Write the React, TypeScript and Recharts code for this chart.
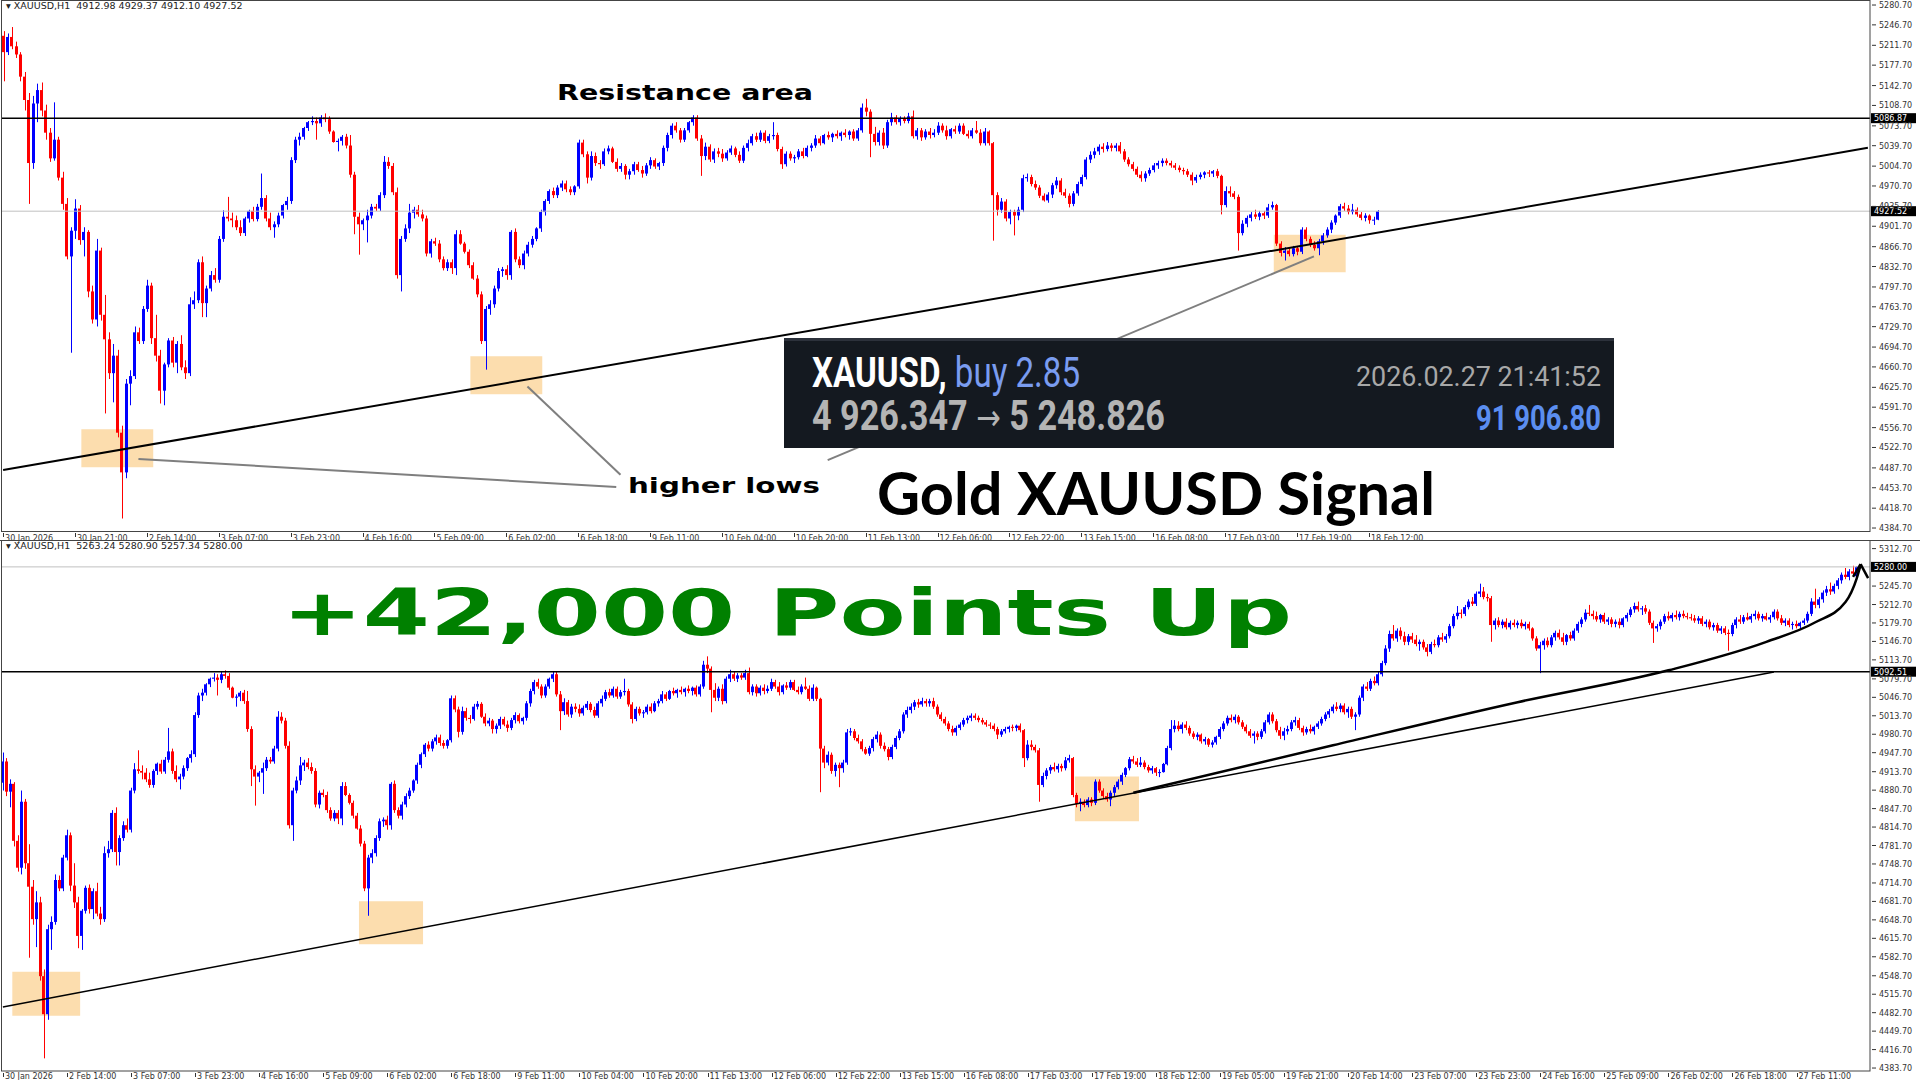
import React from 'react';
import { ComposedChart, Bar, Line, XAxis, YAxis, ReferenceLine, ReferenceArea } from 'recharts';

type Ohlc = [number, number, number, number];

// XAUUSD H1 candles [open, high, low, close]
const bars30Jan: Ohlc[] = [
  [5228,5236,5150,5200],[5200,5232,5195,5226],[5226,5243,5205,5210],[5210,5218,5190,5196],[5196,5200,5150,5158],
  [5158,5166,5100,5118],[5118,5130,4940,5010],[5010,5125,5000,5112],[5112,5146,5080,5135],[5135,5148,5090,5100],
  [5100,5110,5050,5062],[5062,5070,5012,5018],[5018,5114,5014,5050],[5050,5055,4980,4985],[4985,4995,4930,4940],
  [4940,4950,4845,4850],[4850,4900,4685,4894],[4894,4948,4880,4932],[4932,4938,4870,4878],[4878,4900,4850,4892],
  [4892,4895,4780,4790],[4790,4800,4735,4742],[4742,4880,4730,4860],[4860,4865,4740,4750],[4750,4784,4581,4708],
  [4708,4720,4640,4650],[4650,4700,4600,4680],[4680,4690,4540,4548],[4548,4560,4401,4480],[4480,4640,4470,4632],
  [4632,4655,4595,4645],[4645,4730,4640,4720],[4720,4728,4700,4705],[4705,4765,4700,4760],[4760,4810,4755,4800],
  [4800,4805,4700,4710],[4710,4750,4670,4680],[4680,4690,4598,4620],[4620,4668,4595,4665],[4665,4710,4660,4706],
  [4706,4712,4660,4668],[4668,4705,4650,4700],[4700,4715,4655,4660],[4660,4672,4640,4650],[4650,4780,4645,4768],
  [4768,4790,4760,4775],[4775,4845,4770,4840],[4840,4850,4746,4770],[4770,4800,4746,4795],[4795,4825,4790,4818],
  [4818,4830,4805,4810],[4810,4885,4805,4880],[4880,4929,4875,4918],[4918,4952,4910,4915],[4915,4925,4900,4912],
  [4912,4920,4895,4900],[4900,4912,4885,4890],[4890,4918,4885,4915],[4915,4930,4908,4928],[4928,4935,4910,4914],
  [4914,4940,4910,4935],[4935,4992,4930,4950],[4950,4955,4910,4915],[4915,4925,4895,4900],[4900,4910,4882,4905],
  [4905,4925,4900,4920],[4920,4940,4915,4938],[4938,4952,4930,4945],[4945,5020,4940,5015],[5015,5055,5010,5050],
  [5050,5062,5040,5055],[5055,5072,5050,5070],[5070,5082,5065,5080],[5080,5090,5075,5082],[5082,5088,5050,5078],
  [5078,5092,5072,5088],[5088,5095,5080,5085],[5085,5090,5060,5064],[5064,5066,5045,5046],[5046,5052,5030,5048],
  [5048,5058,5040,5055],[5055,5060,5035,5040],[5040,5058,4985,4990],[4990,4995,4888,4918],[4918,4925,4853,4905],
  [4905,4915,4895,4912],[4912,4930,4874,4920],[4920,4940,4915,4935],[4935,4940,4928,4932],[4932,4960,4928,4955],
  [4955,5022,4950,5012],[5012,5020,5000,5005],[5005,5010,4955,4960],[4960,4968,4812,4818],[4818,4885,4790,4880],
  [4880,4905,4875,4898],[4898,4940,4890,4925],[4925,4935,4915,4930],[4930,4938,4918,4922],[4922,4930,4910,4915],
];

const bars6Feb: Ohlc[] = [
  [4915,4920,4850,4855],[4855,4880,4848,4876],[4876,4882,4868,4872],[4872,4878,4840,4845],[4845,4850,4826,4830],
  [4830,4845,4825,4840],[4840,4845,4820,4830],[4830,4895,4818,4888],[4888,4895,4870,4872],[4872,4875,4855,4858],
  [4858,4862,4830,4835],[4835,4840,4810,4812],[4812,4818,4780,4785],[4785,4790,4700,4705],[4705,4765,4656,4760],
  [4760,4775,4750,4768],[4768,4800,4762,4795],[4795,4830,4790,4825],[4825,4832,4815,4828],[4828,4835,4810,4818],
  [4818,4895,4810,4892],[4892,4898,4840,4845],[4845,4850,4830,4835],[4835,4860,4828,4855],[4855,4875,4850,4870],
  [4870,4885,4865,4880],[4880,4900,4876,4898],[4898,4930,4892,4926],[4926,4948,4920,4945],[4945,4965,4940,4962],
  [4962,4968,4950,4955],[4955,4972,4950,4968],[4968,4980,4962,4975],[4975,4980,4960,4965],[4965,4970,4955,4960],
  [4960,4972,4955,4970],[4970,5050,4966,5045],[5045,5050,5020,5025],[5025,5030,4975,4985],[4985,5030,4980,5022],
  [5022,5028,5005,5010],[5010,5015,5000,5008],[5008,5035,5005,5030],[5030,5040,5025,5035],[5035,5038,5010,5012],
  [5012,5018,4995,5000],[5000,5010,4995,5005],[5005,5008,4982,4990],[4990,5000,4982,4996],[4996,5012,4990,5008],
  [5008,5012,4995,4998],[4998,5005,4985,4992],[4992,5010,4988,5006],[5006,5020,5000,5015],[5015,5018,5000,5004],
  [5004,5012,4998,5010],[5010,5040,5005,5036],[5036,5062,5030,5058],[5058,5078,5052,5074],[5074,5080,5062,5066],
  [5066,5070,5045,5050],[5050,5070,5046,5066],[5066,5082,5062,5080],[5080,5092,5074,5088],[5088,5092,5048,5052],
  [5052,5058,4988,5022],[5022,5045,5015,5038],[5038,5042,5012,5016],[5016,5035,5010,5030],[5030,5036,5020,5026],
  [5026,5034,5012,5018],[5018,5032,5014,5028],[5028,5040,5024,5035],[5035,5038,5020,5024],[5024,5030,5010,5014],
  [5014,5040,5010,5036],[5036,5050,5030,5044],[5044,5060,5040,5056],[5056,5062,5046,5050],[5050,5066,5046,5062],
  [5062,5066,5044,5048],[5048,5060,5044,5056],[5056,5080,5050,5058],[5058,5062,5030,5034],[5034,5038,5000,5008],
  [5008,5030,5004,5026],[5026,5030,5014,5018],[5018,5024,5010,5020],[5020,5034,5016,5030],[5030,5036,5018,5022],
  [5022,5040,5020,5036],[5036,5044,5030,5040],[5040,5058,5036,5052],[5052,5056,5040,5044],[5044,5060,5042,5058],
  [5058,5064,5050,5054],[5054,5062,5046,5060],[5060,5066,5052,5056],[5056,5064,5048,5062],[5062,5068,5054,5058],
];

const bars11Feb: Ohlc[] = [
  [5058,5066,5050,5064],[5064,5068,5048,5052],[5052,5070,5048,5066],[5066,5112,5062,5105],[5105,5120,5090,5098],
  [5098,5102,5020,5060],[5060,5072,5040,5046],[5046,5066,5040,5062],[5062,5070,5034,5040],[5040,5084,5036,5080],
  [5080,5096,5074,5088],[5088,5092,5076,5080],[5080,5090,5074,5086],[5086,5090,5078,5082],[5082,5096,5078,5090],
  [5090,5100,5052,5056],[5056,5070,5050,5066],[5066,5070,5048,5054],[5054,5068,5050,5064],[5064,5070,5052,5058],
  [5058,5068,5054,5062],[5062,5080,5058,5074],[5074,5078,5062,5066],[5066,5074,5050,5056],[5056,5070,5052,5068],
  [5068,5074,5060,5064],[5064,5078,5060,5074],[5074,5078,5058,5060],[5060,5066,5052,5056],[5056,5070,5052,5066],
  [5066,5082,5060,5062],[5062,5068,5040,5044],[5044,5070,5040,5064],[5064,5066,5040,5044],[5044,5046,4877,4955],
  [4955,4960,4920,4930],[4930,4950,4925,4944],[4944,4948,4910,4915],[4915,4930,4905,4926],[4926,4930,4886,4920],
  [4920,4935,4912,4930],[4930,4990,4926,4984],[4984,4992,4978,4986],[4986,4990,4970,4974],[4974,4980,4964,4968],
  [4968,4972,4950,4954],[4954,4958,4944,4946],[4946,4960,4942,4956],[4956,4976,4950,4972],[4972,4986,4966,4980],
  [4980,4984,4955,4960],[4960,4966,4950,4954],[4954,4958,4934,4940],[4940,4962,4936,4958],[4958,4978,4954,4974],
  [4974,4990,4970,4986],[4986,5020,4982,5016],[5016,5030,5010,5024],[5024,5036,5018,5030],[5030,5042,5024,5038],
  [5038,5044,5028,5034],[5034,5046,5030,5040],[5040,5044,5030,5036],[5036,5044,5030,5040],[5040,5046,5026,5030],
  [5030,5034,5012,5016],[5016,5020,5004,5008],[5008,5012,4996,5000],[5000,5004,4986,4990],[4990,4996,4978,4984],
  [4984,4996,4978,4992],[4992,5002,4988,4998],[4998,5010,4994,5006],[5006,5014,5000,5010],[5010,5018,5004,5014],
  [5014,5018,5006,5010],[5010,5014,5002,5006],[5006,5010,4998,5002],[5002,5006,4994,4998],[4998,5002,4990,4996],
  [4996,5000,4986,4990],[4990,4994,4972,4980],[4980,4990,4976,4986],[4986,4994,4982,4990],[4990,4996,4984,4994],
  [4994,4998,4986,4992],[4992,4998,4986,4996],[4996,5000,4984,4988],[4988,4990,4922,4938],[4938,4970,4934,4962],
  [4962,4970,4952,4958],[4958,4962,4948,4952],[4952,4956,4860,4890],[4890,4912,4886,4906],[4906,4920,4900,4916],
  [4916,4926,4910,4922],[4922,4930,4914,4918],[4918,4928,4912,4924],[4924,4928,4914,4920],[4920,4940,4916,4934],
];

const bars17Feb: Ohlc[] = [
  [4934,4944,4930,4938],[4938,4940,4868,4872],[4872,4876,4850,4856],[4856,4866,4843,4860],[4860,4864,4850,4854],
  [4854,4868,4850,4864],[4864,4868,4852,4858],[4858,4900,4854,4896],[4896,4900,4876,4880],[4880,4884,4866,4870],
  [4870,4876,4860,4864],[4864,4880,4852,4876],[4876,4890,4870,4886],[4886,4900,4882,4896],[4896,4912,4890,4908],
  [4908,4922,4904,4920],[4920,4940,4916,4936],[4936,4942,4928,4932],[4932,4938,4922,4926],[4926,4940,4922,4930],
  [4930,4934,4918,4922],[4922,4926,4912,4916],[4916,4924,4910,4920],[4920,4922,4906,4912],[4912,4918,4904,4913],
  [4912.98,4929.37,4912.1,4927.52],[4927,4960,4925,4956],[4956,5006,4952,4990],[4990,5006,4984,4996],[4996,5004,4986,4990],
  [4990,5002,4982,4998],[4998,5004,4988,4992],[4992,4996,4978,4982],[4982,4986,4972,4976],[4976,4984,4970,4980],
  [4980,4982,4964,4968],[4968,4976,4962,4972],[4972,4974,4958,4962],[4962,4970,4957,4966],[4966,4978,4962,4976],
  [4976,4994,4972,4990],[4990,5004,4986,5000],[5000,5014,4996,5010],[5010,5016,5002,5006],[5006,5016,5000,5012],
  [5012,5015,4998,5002],[5002,5006,4990,4994],[4994,4998,4982,4986],[4986,4990,4974,4978],[4978,4986,4964,4982],
  [4982,4986,4970,4976],[4976,4990,4972,4986],[4986,5006,4982,5002],[5002,5020,4998,5016],[5016,5020,5000,5004],
  [5004,5008,4984,4988],[4988,4994,4972,4978],[4978,4992,4970,4986],[4986,4996,4980,4990],[4990,5006,4986,5002],
  [5002,5012,4996,5006],[5006,5010,4988,4992],[4992,4996,4978,4984],[4984,4994,4980,4990],[4990,4998,4982,4986],
  [4986,4996,4980,4994],[4994,5004,4990,5000],[5000,5012,4996,5008],[5008,5020,5004,5016],[5016,5026,5010,5022],
  [5022,5034,5018,5030],[5030,5038,5022,5026],[5026,5036,5020,5032],[5032,5036,5016,5020],[5020,5030,5010,5026],
  [5026,5030,5008,5012],[5012,5020,4988,5016],[5016,5050,5012,5046],[5046,5070,5040,5066],[5066,5074,5058,5062],
  [5062,5080,5058,5076],[5076,5084,5068,5072],[5072,5092,5068,5088],[5088,5112,5084,5108],[5108,5140,5104,5134],
  [5134,5166,5128,5160],[5160,5176,5148,5152],[5152,5170,5146,5166],[5166,5172,5150,5156],[5156,5164,5140,5146],
  [5146,5160,5140,5156],[5156,5162,5144,5150],[5150,5158,5138,5142],[5142,5150,5130,5146],[5146,5150,5132,5136],
  [5136,5142,5120,5128],[5128,5146,5124,5142],[5142,5150,5136,5140],[5140,5158,5136,5154],[5154,5162,5146,5150],
];

const bars23Feb: Ohlc[] = [
  [5150,5160,5144,5156],[5156,5178,5152,5174],[5174,5196,5170,5192],[5192,5210,5186,5198],[5198,5204,5188,5196],
  [5196,5212,5192,5208],[5208,5222,5204,5218],[5218,5226,5210,5214],[5214,5236,5210,5232],[5232,5250,5226,5236],
  [5236,5244,5222,5226],[5226,5232,5218,5224],[5224,5228,5146,5176],[5176,5188,5168,5184],[5184,5190,5172,5176],
  [5176,5186,5170,5182],[5182,5188,5168,5172],[5172,5184,5168,5180],[5180,5186,5172,5176],[5176,5184,5170,5180],
  [5180,5186,5170,5174],[5174,5182,5168,5178],[5178,5182,5166,5170],[5170,5172,5148,5152],[5152,5156,5130,5134],
  [5134,5146,5090,5140],[5140,5152,5132,5148],[5148,5154,5136,5140],[5140,5158,5136,5154],[5154,5166,5148,5162],
  [5162,5168,5150,5154],[5154,5162,5140,5146],[5146,5160,5140,5158],[5158,5164,5148,5152],[5152,5170,5148,5166],
  [5166,5182,5162,5178],[5178,5190,5172,5186],[5186,5204,5182,5198],[5198,5212,5192,5196],[5196,5202,5186,5192],
  [5192,5200,5182,5186],[5186,5196,5180,5194],[5194,5198,5178,5182],[5182,5190,5176,5186],[5186,5190,5172,5178],
  [5178,5186,5172,5182],[5182,5188,5170,5176],[5176,5190,5172,5188],[5188,5198,5182,5194],[5194,5208,5190,5204],
  [5204,5216,5198,5210],[5210,5218,5200,5204],[5204,5210,5194,5206],[5206,5212,5196,5200],[5200,5204,5176,5180],
  [5180,5184,5144,5170],[5170,5178,5164,5174],[5174,5186,5168,5182],[5182,5196,5178,5192],[5192,5200,5184,5188],
  [5188,5198,5182,5194],[5194,5202,5186,5190],[5190,5200,5184,5196],[5196,5202,5188,5192],[5192,5198,5186,5190],
  [5190,5196,5184,5188],[5188,5194,5180,5184],[5184,5192,5178,5188],[5188,5192,5174,5178],[5178,5186,5172,5182],
  [5182,5186,5168,5172],[5172,5180,5166,5176],[5176,5180,5162,5166],[5166,5174,5160,5170],[5170,5174,5158,5162],
  [5162,5168,5130,5160],[5160,5180,5156,5176],[5176,5190,5170,5186],[5186,5194,5178,5182],[5182,5194,5178,5190],
  [5190,5198,5184,5186],[5186,5196,5180,5192],[5192,5202,5186,5196],[5196,5200,5184,5188],[5188,5196,5182,5192],
  [5192,5198,5184,5186],[5186,5194,5180,5190],[5190,5204,5186,5200],[5200,5204,5184,5188],[5188,5194,5176,5180],
  [5180,5188,5174,5184],[5184,5188,5172,5176],[5176,5182,5168,5178],[5178,5184,5170,5174],[5174,5182,5168,5180],
  [5180,5188,5176,5184],[5184,5200,5180,5196],[5196,5224,5192,5218],[5218,5241,5206,5212],[5212,5226,5206,5222],
  [5222,5238,5216,5234],[5234,5246,5228,5240],[5240,5252,5230,5236],[5236,5250,5232,5246],[5246,5260,5240,5256],
  [5256,5270,5250,5266],[5266,5278,5258,5262],[5262,5276,5256,5272],[5272,5282,5264,5268],[5263.24,5280.9,5257.34,5280],
];

const allBars: Ohlc[] = [...bars30Jan, ...bars6Feb, ...bars11Feb, ...bars17Feb, ...bars23Feb];

const topTimeLabels = [
  '30 Jan 2026', '30 Jan 21:00', '2 Feb 14:00', '3 Feb 07:00', '3 Feb 23:00', '4 Feb 16:00', '5 Feb 09:00',
  '6 Feb 02:00', '6 Feb 18:00', '9 Feb 11:00', '10 Feb 04:00', '10 Feb 20:00', '11 Feb 13:00', '12 Feb 06:00',
  '12 Feb 22:00', '13 Feb 15:00', '16 Feb 08:00', '17 Feb 03:00', '17 Feb 19:00', '18 Feb 12:00',
];
const bottomTimeLabels = [
  '30 Jan 2026', '2 Feb 14:00', '3 Feb 07:00', '3 Feb 23:00', '4 Feb 16:00', '5 Feb 09:00', '6 Feb 02:00',
  '6 Feb 18:00', '9 Feb 11:00', '10 Feb 04:00', '10 Feb 20:00', '11 Feb 13:00', '12 Feb 06:00', '12 Feb 22:00',
  '13 Feb 15:00', '16 Feb 08:00', '17 Feb 03:00', '17 Feb 19:00', '18 Feb 12:00', '19 Feb 05:00', '19 Feb 21:00',
  '20 Feb 14:00', '23 Feb 07:00', '23 Feb 23:00', '24 Feb 16:00', '25 Feb 09:00', '26 Feb 02:00', '26 Feb 18:00',
  '27 Feb 11:00',
];
const topPriceTicks = [
  5280.7, 5246.7, 5211.7, 5177.7, 5142.7, 5108.7, 5073.7, 5039.7, 5004.7, 4970.7, 4935.7, 4901.7, 4866.7, 4832.7,
  4797.7, 4763.7, 4729.7, 4694.7, 4660.7, 4625.7, 4591.7, 4556.7, 4522.7, 4487.7, 4453.7, 4418.7, 4384.7,
];
// 5279.70 sits under the 5280.00 price tag and is not visible, so it is left out
const bottomPriceTicks = [
  5312.7, 5245.7, 5212.7, 5179.7, 5146.7, 5113.7, 5079.7, 5046.7, 5013.7, 4980.7, 4947.7, 4913.7, 4880.7,
  4847.7, 4814.7, 4781.7, 4748.7, 4714.7, 4681.7, 4648.7, 4615.7, 4582.7, 4548.7, 4515.7, 4482.7, 4449.7, 4416.7,
  4383.7,
];

// annotations, in [bar, price]
const topZones = [
  { x1: 19, x2: 35, y1: 4489, y2: 4554 },
  { x1: 111, x2: 127, y1: 4614, y2: 4679 },
  { x1: 301, x2: 317, y1: 4823, y2: 4887 },
];
const bottomZones = [
  { x1: 3, x2: 20, y1: 4477, y2: 4556 },
  { x1: 95, x2: 111, y1: 4605, y2: 4682 },
  { x1: 285, x2: 301, y1: 4825, y2: 4905 },
];
const topPointers = [
  [[32, 4503], [145, 4455]],
  [[124, 4627], [146, 4476]],
  [[310, 4850], [195, 4501]],
];
const arrowPath: [number, number][] = [
  [300, 4876], [353, 4961], [402, 5038], [442, 5095], [468, 5146], [481, 5181], [489, 5217], [492, 5260], [493, 5283],
];

const TOP_BAR_COUNT = 326;
const BOTTOM_START = 17;
const LABEL_STEP = 17;
const TOP_SLOTS = 442;
const BOTTOM_SLOTS = 496;

type Row = { i: number; o?: number; h?: number; l?: number; c?: number; arrow?: number };

const buildRows = (bars: Ohlc[], slots: number): Row[] => {
  const rows: Row[] = [];
  for (let i = 0; i < slots; i++) {
    const b = bars[i];
    rows.push(b ? { i, o: b[0], h: b[1], l: b[2], c: b[3] } : { i });
  }
  return rows;
};

const topRows = buildRows(allBars.slice(0, TOP_BAR_COUNT), TOP_SLOTS);
const bottomRows = buildRows(allBars.slice(BOTTOM_START), BOTTOM_SLOTS);
arrowPath.forEach(([j, p]) => { bottomRows[j].arrow = p; });

const topLabelMap: Record<number, string> = {};
topTimeLabels.forEach((t, k) => { topLabelMap[k * LABEL_STEP] = t; });
const bottomLabelMap: Record<number, string> = {};
bottomTimeLabels.forEach((t, k) => { bottomLabelMap[k * LABEL_STEP] = t; });

const AXIS_FONT = 'DejaVu Sans';

const Candle = (props: any) => {
  const { x, y, width, height, payload } = props;
  if (!payload || payload.o == null || !isFinite(y) || !isFinite(height)) return null;
  const { o, h, l, c } = payload;
  const k = height / Math.max(h - l, 0.01);
  const yO = y + (h - o) * k;
  const yC = y + (h - c) * k;
  const color = c >= o ? '#0000ff' : '#ff0000';
  const mid = x + width / 2;
  const wx = Math.round(mid) + 0.5;
  const bx0 = Math.round(mid - width / 2);
  const bx1 = Math.round(mid + width / 2);
  return (
    <g>
      <line x1={wx} x2={wx} y1={y} y2={y + height} stroke={color} strokeWidth={1} />
      <rect x={bx0} y={Math.min(yO, yC)} width={Math.max(1, bx1 - bx0)} height={Math.max(1, Math.abs(yC - yO))} fill={color} />
    </g>
  );
};

const renderPriceTick = (p: any) => (
  <g>
    <line x1={p.x} x2={p.x + 4} y1={p.y} y2={p.y} stroke="#333" />
    <text x={p.x + 7} y={p.y + 3} fontSize={8} fontFamily={AXIS_FONT} fill="#333">
      {Number(p.payload.value).toFixed(2)}
    </text>
  </g>
);

const timeTick = (labels: Record<number, string>, dy: number) => (p: any) => (
  <g>
    <line x1={Math.round(p.x) + 0.5} x2={Math.round(p.x) + 0.5} y1={p.y} y2={p.y + 4} stroke="#333" />
    <text x={p.x + 2} y={p.y + dy} fontSize={8} fontFamily={AXIS_FONT} fill="#333">
      {labels[p.payload.value]}
    </text>
  </g>
);

const priceTag = (text: string) => (props: any) => {
  const vb = props.viewBox || {};
  const x = (vb.x || 0) + (vb.width || 0);
  const y = vb.y || 0;
  return (
    <g>
      <rect x={x + 1} y={y - 5} width={45} height={10} fill="#000" />
      <text x={x + 4} y={y + 3} fontSize={8} fontFamily={AXIS_FONT} fill="#fff">{text}</text>
    </g>
  );
};

const abs = (extra: React.CSSProperties): React.CSSProperties => ({ position: 'absolute', whiteSpace: 'nowrap', ...extra });

export default function App() {
  return (
    <div style={{ position: 'absolute', left: 0, top: 0, width: 1920, height: 1080, background: '#fff', overflow: 'hidden' }}>
      <div style={abs({ left: 0, top: 0 })}>
        <ComposedChart width={1920} height={545} data={topRows} margin={{ top: 1, right: 0, bottom: 0, left: 1 }}>
          <XAxis dataKey="i" type="category" ticks={topTimeLabels.map((_, k) => k * LABEL_STEP)} interval={0}
            tick={timeTick(topLabelMap, 8)} tickLine={false} axisLine={false} tickSize={0} height={14} />
          <YAxis orientation="right" type="number" domain={[4379.6, 5287.6]} allowDataOverflow ticks={topPriceTicks}
            interval={0} tick={renderPriceTick} tickLine={false} axisLine={false} tickSize={0} width={50} />
          {topZones.map((z, k) => (
            <ReferenceArea key={'tz' + k} x1={z.x1} x2={z.x2} y1={z.y1} y2={z.y2} fill="#fbd49a" fillOpacity={0.8} stroke="none" />
          ))}
          <ReferenceLine y={4927.52} stroke="#c0c0c0" strokeWidth={1} label={priceTag('4927.52')} />
          <Bar dataKey={(d: Row) => (d.h == null ? null : [d.l, d.h])} barSize={3} shape={Candle} isAnimationActive={false} />
          <ReferenceLine y={5086.87} stroke="#000" strokeWidth={1.5} label={priceTag('5086.87')} />
          <ReferenceLine segment={[{ x: 0, y: 4484 }, { x: 441, y: 5036 }]} stroke="#000" strokeWidth={2} />
          {topPointers.map((s, k) => (
            <ReferenceLine key={'tp' + k} segment={[{ x: s[0][0], y: s[0][1] }, { x: s[1][0], y: s[1][1] }]} stroke="#7f7f7f" strokeWidth={2} />
          ))}
        </ComposedChart>
      </div>

      <div style={abs({ left: 0, top: 540 })}>
        <ComposedChart width={1920} height={540} data={bottomRows} margin={{ top: 1, right: 0, bottom: 0, left: 1 }}>
          <XAxis dataKey="i" type="category" ticks={bottomTimeLabels.map((_, k) => k * LABEL_STEP)} interval={0}
            tick={timeTick(bottomLabelMap, 6)} tickLine={false} axisLine={false} tickSize={0} height={9} />
          <YAxis orientation="right" type="number" domain={[4378.4, 5326.3]} allowDataOverflow ticks={bottomPriceTicks}
            interval={0} tick={renderPriceTick} tickLine={false} axisLine={false} tickSize={0} width={50} />
          {bottomZones.map((z, k) => (
            <ReferenceArea key={'bz' + k} x1={z.x1} x2={z.x2} y1={z.y1} y2={z.y2} fill="#fbd49a" fillOpacity={0.8} stroke="none" />
          ))}
          <ReferenceLine y={5280} stroke="#c0c0c0" strokeWidth={1} label={priceTag('5280.00')} />
          <Bar dataKey={(d: Row) => (d.h == null ? null : [d.l, d.h])} barSize={3} shape={Candle} isAnimationActive={false} />
          <ReferenceLine y={5092.51} stroke="#000" strokeWidth={1.5} label={priceTag('5092.51')} />
          <ReferenceLine segment={[{ x: 0, y: 4493 }, { x: 470, y: 5092 }]} stroke="#000" strokeWidth={1.5} />
          <Line dataKey="arrow" type="monotone" connectNulls dot={false} stroke="#000" strokeWidth={2.5} isAnimationActive={false} />
          <ReferenceLine segment={[{ x: 491, y: 5262 }, { x: 493, y: 5285 }]} stroke="#000" strokeWidth={2.5} />
          <ReferenceLine segment={[{ x: 493, y: 5285 }, { x: 495, y: 5260 }]} stroke="#000" strokeWidth={2.5} />
        </ComposedChart>
      </div>

      <div style={abs({ left: 6, top: 0, fontFamily: AXIS_FONT, fontSize: 9.5, lineHeight: '11px', color: '#222' })}>
        ▾ XAUUSD,H1&nbsp; 4912.98 4929.37 4912.10 4927.52
      </div>
      <div style={abs({ left: 6, top: 540, fontFamily: AXIS_FONT, fontSize: 9.5, lineHeight: '11px', color: '#222' })}>
        ▾ XAUUSD,H1&nbsp; 5263.24 5280.90 5257.34 5280.00
      </div>

      {/* frames, captions and the trade card; texts are placed on their baselines */}
      <svg width={1920} height={1080} style={abs({ left: 0, top: 0, pointerEvents: 'none' })}>
        <rect x={1.5} y={0.5} width={1868.5} height={531} fill="none" stroke="#444" />
        <rect x={1.5} y={540.5} width={1868.5} height={530.5} fill="none" stroke="#444" />
        <line x1={0} x2={1920} y1={540.5} y2={540.5} stroke="#444" />

        <text x={557} y={100} fontFamily="DejaVu Sans" fontWeight={700} fontSize={21} fill="#000"
          textLength={256} lengthAdjust="spacingAndGlyphs">Resistance area</text>
        <text x={628} y={493} fontFamily="DejaVu Sans" fontWeight={700} fontSize={21} fill="#000"
          textLength={192} lengthAdjust="spacingAndGlyphs">higher lows</text>
        <text x={877} y={515} fontFamily="Lato" fontWeight={700} fontSize={60} fill="#000"
          textLength={558} lengthAdjust="spacingAndGlyphs">Gold XAUUSD Signal</text>
        <text x={282} y={635} fontFamily="DejaVu Sans" fontWeight={700} fontSize={64} fill="#008000"
          textLength={1010} lengthAdjust="spacingAndGlyphs">+42,000 Points Up</text>

        <rect x={784} y={338} width={830} height={110} fill="#141920" />
        <rect x={784} y={338} width={830} height={3} fill="#2c313b" />
        <text x={812} y={387} fontFamily="Roboto" fontSize={42} textLength={268} lengthAdjust="spacingAndGlyphs">
          <tspan fill="#ffffff" fontWeight={700}>XAUUSD,</tspan>
          <tspan fill="#7a9cf0"> buy 2.85</tspan>
        </text>
        <text x={812} y={430} fontFamily="Roboto" fontWeight={700} fontSize={42} fill="#b4b4b4"
          textLength={353} lengthAdjust="spacingAndGlyphs">
          4 926.347 <tspan fontFamily="DejaVu Sans" fontWeight={400} fontSize={36}>→</tspan> 5 248.826
        </text>
        <text x={1601} y={386} fontFamily="Roboto" fontSize={28} fill="#a8a8a8" textAnchor="end"
          textLength={245} lengthAdjust="spacingAndGlyphs">2026.02.27 21:41:52</text>
        <text x={1601} y={430} fontFamily="Roboto" fontWeight={700} fontSize={35} fill="#5b8ef0" textAnchor="end"
          textLength={125} lengthAdjust="spacingAndGlyphs">91 906.80</text>
      </svg>
    </div>
  );
}
